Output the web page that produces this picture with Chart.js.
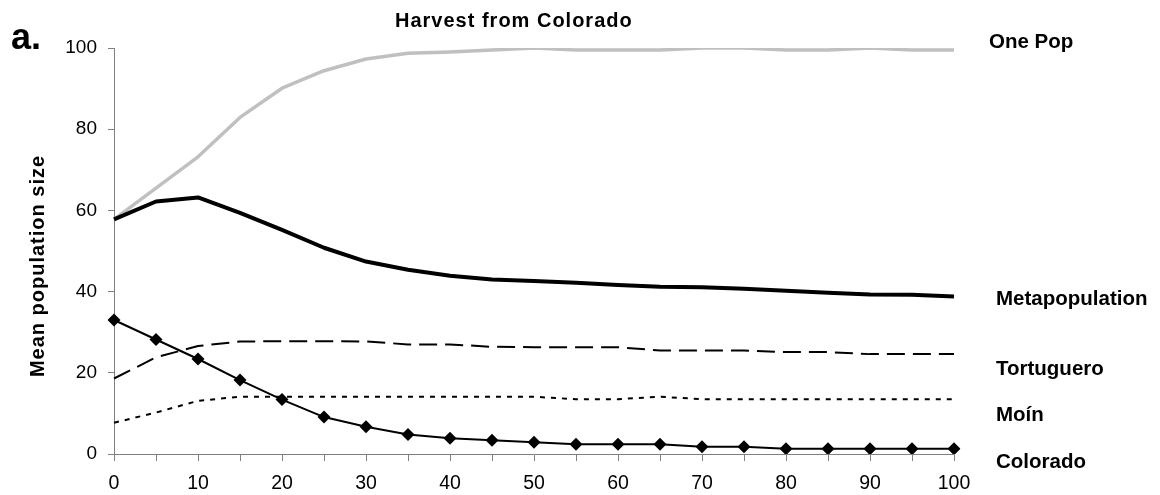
<!DOCTYPE html>
<html>
<head>
<meta charset="utf-8">
<title>Harvest from Colorado</title>
<script src="https://cdn.jsdelivr.net/npm/chart.js@4/dist/chart.umd.min.js"></script>
<style>
  html, body { margin: 0; padding: 0; background: #ffffff; }
  #wrap { position: relative; width: 1160px; height: 495px; }
</style>
</head>
<body>
<div id="wrap"><canvas id="chart"></canvas></div>
<script>
// Years since harvest began (x categories)
const years = [0, 5, 10, 15, 20, 25, 30, 35, 40, 45, 50, 55, 60, 65, 70, 75, 80, 85, 90, 95, 100];
// Only every second category gets a printed label
const labelledYears = [0, 10, 20, 30, 40, 50, 60, 70, 80, 90, 100];
const yTicks = [0, 20, 40, 60, 80, 100];

// Mean population size per model
const onePop     = [57.8, 65.5, 73.2, 82.9, 90.1, 94.4, 97.3, 98.7, 99.0, 99.5, 100, 99.5, 99.5, 99.5, 100, 100, 99.5, 99.5, 100, 99.5, 99.5];
const metapop    = [57.8, 62.2, 63.2, 59.4, 55.2, 50.8, 47.4, 45.4, 43.9, 43.0, 42.6, 42.2, 41.6, 41.2, 41.1, 40.7, 40.2, 39.7, 39.3, 39.2, 38.8];
const tortuguero = [18.6, 23.8, 26.6, 27.7, 27.8, 27.8, 27.7, 27.0, 27.0, 26.4, 26.3, 26.3, 26.3, 25.5, 25.5, 25.5, 25.1, 25.1, 24.6, 24.6, 24.6];
const moin       = [7.7, 10.2, 13.1, 14.1, 14.1, 14.1, 14.1, 14.1, 14.1, 14.1, 14.1, 13.5, 13.5, 14.1, 13.5, 13.5, 13.5, 13.5, 13.5, 13.5, 13.5];
const colorado   = [33.0, 28.2, 23.4, 18.2, 13.4, 9.1, 6.7, 4.8, 3.9, 3.4, 2.9, 2.4, 2.4, 2.4, 1.8, 1.8, 1.3, 1.3, 1.3, 1.3, 1.3];

const seriesNames = ['One Pop', 'Metapopulation', 'Tortuguero', 'Moín', 'Colorado'];

const FONT = "'Liberation Sans', Arial, Helvetica, sans-serif";
const AXIS_GREY = '#808080';

// Panel letter, title, rotated y title and the series names at the right
const annotations = {
  id: 'annotations',
  afterDraw(chart) {
    const ctx = chart.ctx;
    ctx.save();
    ctx.fillStyle = '#000000';
    ctx.textBaseline = 'alphabetic';

    ctx.font = `bold 36px ${FONT}`;
    ctx.textAlign = 'left';
    ctx.fillText('a.', 11, 49);

    ctx.font = `bold 20px ${FONT}`;
    ctx.letterSpacing = '1px';
    ctx.fillText('Harvest from Colorado', 395, 27);

    ctx.save();
    ctx.translate(44, 266);
    ctx.rotate(-Math.PI / 2);
    ctx.textAlign = 'center';
    ctx.fillText('Mean population size', 0, 0);
    ctx.restore();
    ctx.letterSpacing = '0px';

    ctx.font = `bold 20.5px ${FONT}`;
    ctx.textAlign = 'left';
    const namePos = [[989, 48], [996, 305], [996, 375], [996, 421], [996, 468]];
    seriesNames.forEach((name, i) => ctx.fillText(name, namePos[i][0], namePos[i][1]));
    ctx.restore();
  }
};

new Chart(document.getElementById('chart'), {
  type: 'line',
  data: {
    labels: years,
    datasets: [
      {
        label: seriesNames[4], data: colorado,
        borderColor: '#000000', borderWidth: 2,
        pointStyle: 'rectRot', pointRadius: 6.5,
        pointBackgroundColor: '#000000', pointBorderColor: '#000000', pointBorderWidth: 0
      },
      {
        label: seriesNames[1], data: metapop,
        borderColor: '#000000', borderWidth: 4, pointRadius: 0
      },
      {
        label: seriesNames[2], data: tortuguero,
        borderColor: '#000000', borderWidth: 2, borderDash: [18, 8], pointRadius: 0
      },
      {
        label: seriesNames[3], data: moin,
        borderColor: '#000000', borderWidth: 2, borderDash: [5, 6], pointRadius: 0
      },
      {
        label: seriesNames[0], data: onePop,
        borderColor: '#c0c0c0', borderWidth: 3.5, pointRadius: 0
      }
    ]
  },
  options: {
    responsive: true,
    maintainAspectRatio: false,
    animation: false,
    events: [],
    layout: { padding: { top: 48, right: 206, left: 0, bottom: 0 } },
    elements: { line: { tension: 0, borderCapStyle: 'butt', borderJoinStyle: 'round' } },
    plugins: {
      legend: { display: false },
      tooltip: { enabled: false },
      title: { display: false }
    },
    scales: {
      x: {
        type: 'category',
        offset: false,
        border: { display: true, color: AXIS_GREY, width: 1 },
        grid: { display: true, drawOnChartArea: false, drawTicks: true, tickLength: 7, color: AXIS_GREY },
        ticks: {
          autoSkip: false, maxRotation: 0, padding: 11, color: '#000000',
          font: { family: FONT, size: 19.5 },
          callback(value) {
            const yr = years[value];
            return labelledYears.includes(yr) ? String(yr) : '';
          }
        },
        afterFit(scale) { scale.height = 41; }
      },
      y: {
        min: 0, max: 100,
        border: { display: true, color: AXIS_GREY, width: 1 },
        grid: { display: true, drawOnChartArea: false, drawTicks: true, tickLength: 6, color: AXIS_GREY },
        afterBuildTicks(scale) { scale.ticks = yTicks.map(v => ({ value: v })); },
        ticks: { padding: 11, color: '#000000', font: { family: FONT, size: 19 } },
        afterFit(scale) { scale.width = 114; }
      }
    }
  },
  plugins: [annotations]
});
</script>
</body>
</html>
